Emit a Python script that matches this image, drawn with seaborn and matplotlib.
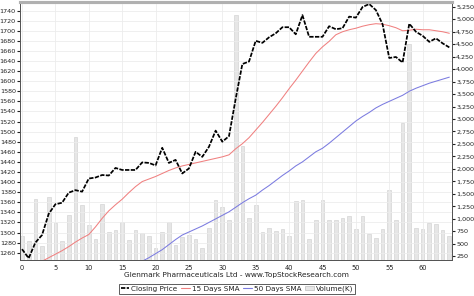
import matplotlib
matplotlib.use("Agg")
import matplotlib.pyplot as plt
from matplotlib.lines import Line2D
from matplotlib.patches import Patch
from matplotlib.ticker import FuncFormatter, MultipleLocator
import seaborn as sns
import pandas as pd
import numpy as np

days = list(range(65))
close = [1267, 1249, 1280, 1295, 1337, 1356, 1359, 1379, 1384, 1381,
         1407, 1409, 1414, 1413, 1428, 1424, 1424, 1424, 1439, 1438,
         1433, 1468, 1438, 1444, 1417, 1427, 1460, 1450, 1470, 1502,
         1480, 1491, 1565, 1634, 1639, 1680, 1676, 1687, 1695, 1707,
         1707, 1693, 1731, 1688, 1688, 1688, 1709, 1703, 1705, 1728,
         1726, 1747, 1753, 1741, 1713, 1646, 1648, 1637, 1714, 1698,
         1690, 1678, 1685, 1675, 1667]
sma15_days = list(range(3, 65))
sma15 = [1243, 1250, 1257, 1264, 1272, 1281, 1289, 1296, 1311, 1328,
         1343, 1355, 1366, 1379, 1391, 1401, 1406, 1411, 1417, 1423,
         1428, 1432, 1435, 1438, 1441, 1444, 1447, 1450, 1454, 1466,
         1476, 1488, 1503, 1518, 1534, 1550, 1567, 1585, 1602, 1620,
         1638, 1655, 1668, 1679, 1692, 1698, 1702, 1705, 1709, 1712,
         1714, 1713, 1710, 1706, 1700, 1701, 1703, 1702, 1702, 1700,
         1698, 1695]
sma50_days = list(range(18, 65))
sma50 = [1243, 1250, 1258, 1266, 1276, 1286, 1295, 1301, 1307, 1313,
         1320, 1327, 1334, 1341, 1350, 1359, 1367, 1374, 1384, 1393,
         1403, 1413, 1422, 1432, 1440, 1450, 1460, 1467, 1477, 1488,
         1499, 1510, 1521, 1530, 1538, 1547, 1554, 1560, 1566, 1572,
         1580, 1586, 1591, 1596, 1600, 1604, 1608]
volume = [665, 555, 1395, 450, 1445, 919, 555, 1083, 2632, 1272,
          873, 589, 1306, 740, 774, 939, 575, 774, 708, 654,
          409, 740, 939, 475, 640, 674, 589, 409, 808, 1386,
          1238, 973, 5090, 2450, 1027, 1286, 740, 808, 754, 788,
          654, 1352, 1371, 592, 987, 1371, 987, 987, 1019, 1053,
          788, 1059, 694, 609, 788, 1585, 987, 2911, 4500, 820,
          788, 913, 900, 768, 654]
left_ticks = list(range(1260, 1741, 20))
right_ticks = list(range(250, 5251, 250))
title = "Glenmark Pharmaceuticals Ltd - www.TopStockResearch.com"

price_df = pd.DataFrame({"day": days, "close": close})
s15_df = pd.DataFrame({"day": sma15_days, "sma": sma15})
s50_df = pd.DataFrame({"day": sma50_days, "sma": sma50})

sns.set_style("white")
plt.rcParams["font.family"] = ["DejaVu Sans"]

fig = plt.figure(figsize=(4.74, 2.96), dpi=100)
ax = fig.add_axes([20 / 474, 1 - 260 / 296, 432 / 474, 258 / 296])
ax2 = ax.twinx()

# volume bars (behind)
ax2.bar(days, volume, width=0.55, color="#e6e6e6", edgecolor="#d4d4d4",
        linewidth=0.5, bottom=0)
ax2.set_ylim(176, 5344)
ax2.set_yticks(right_ticks)
ax2.yaxis.set_major_formatter(FuncFormatter(lambda v, p: f"{int(v):,}"))
ax2.tick_params(axis="y", labelsize=4.6, length=2, pad=1, colors="#222222")

ax.set_zorder(ax2.get_zorder() + 1)
ax.patch.set_visible(False)

sns.lineplot(data=s15_df, x="day", y="sma", ax=ax, color="#f08080", linewidth=0.75)
sns.lineplot(data=s50_df, x="day", y="sma", ax=ax, color="#7b7be0", linewidth=0.75)
sns.lineplot(data=price_df, x="day", y="close", ax=ax, color="black",
             linewidth=1.25, linestyle=(0, (2.5, 0.8)))

ax.set_xlim(-0.3, 64.4)
ax.set_ylim(1245.5, 1757)
ax.set_yticks(left_ticks)
ax.xaxis.set_major_locator(MultipleLocator(5))
ax.tick_params(axis="y", labelsize=4.6, length=2, pad=1, colors="#222222")
ax.tick_params(axis="x", labelsize=4.8, length=2, pad=1.5, colors="#222222")
ax.set_xlabel("")
ax.set_ylabel("")
ax.grid(True, color="#ececec", linewidth=0.6)
ax.set_axisbelow(True)

for a in (ax, ax2):
    a.spines["left"].set_color("#555555")
    a.spines["right"].set_color("#555555")
    a.spines["bottom"].set_color("#555555")
    a.spines["top"].set_color("#b0b0b0")
    a.spines["top"].set_linewidth(2.2)
    for s in ("left", "right", "bottom"):
        a.spines[s].set_linewidth(0.7)

fig.text(0.5, 1 - 275 / 296, title, ha="center", va="center",
         fontsize=5.35, color="#222222")

handles = [
    Line2D([0], [0], color="black", linewidth=1.25, linestyle=(0, (2.5, 0.8))),
    Line2D([0], [0], color="#f08080", linewidth=0.8),
    Line2D([0], [0], color="#7b7be0", linewidth=0.8),
    Patch(facecolor="#e6e6e6", edgecolor="#bdbdbd", linewidth=0.5),
]
labels = ["Closing Price", "15 Days SMA", "50 Days SMA", "Volume(K)"]
leg = fig.legend(handles, labels, loc="center", bbox_to_anchor=(0.5, 1 - 289 / 296),
                 ncol=4, frameon=True, fancybox=False, edgecolor="#333333",
                 fontsize=5.2, handlelength=1.2, handleheight=0.6,
                 columnspacing=0.55, handletextpad=0.25, borderpad=0.25,
                 borderaxespad=0)
leg.get_frame().set_linewidth(0.7)
for t in leg.get_texts():
    t.set_color("#222222")

fig.savefig("out.png", dpi=100)
